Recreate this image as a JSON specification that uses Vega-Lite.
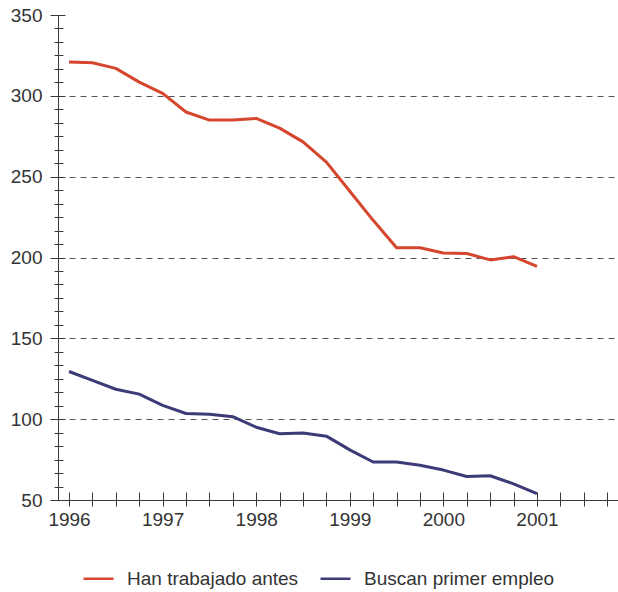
{
  "$schema": "https://vega.github.io/schema/vega-lite/v6.json",
  "width": 560,
  "height": 485,
  "autosize": {"type": "none"},
  "padding": {"left": 58, "top": 15, "right": 0, "bottom": 92},
  "background": "white",
  "config": {
    "view": {"stroke": null},
    "font": "Liberation Sans",
    "axis": {"domainColor": "#3a3a3a", "tickColor": "#3a3a3a", "labelColor": "#333333", "labelFontSize": 19, "labelFont": "Liberation Sans", "title": null}
  },
  "data": {
    "values": [
      {"t": 1996.00, "serie": "Han trabajado antes", "v": 321},
      {"t": 1996.25, "serie": "Han trabajado antes", "v": 320.5},
      {"t": 1996.50, "serie": "Han trabajado antes", "v": 317},
      {"t": 1996.75, "serie": "Han trabajado antes", "v": 308.5},
      {"t": 1997.00, "serie": "Han trabajado antes", "v": 301.5},
      {"t": 1997.25, "serie": "Han trabajado antes", "v": 290},
      {"t": 1997.50, "serie": "Han trabajado antes", "v": 285},
      {"t": 1997.75, "serie": "Han trabajado antes", "v": 285},
      {"t": 1998.00, "serie": "Han trabajado antes", "v": 286},
      {"t": 1998.25, "serie": "Han trabajado antes", "v": 280},
      {"t": 1998.50, "serie": "Han trabajado antes", "v": 271.5},
      {"t": 1998.75, "serie": "Han trabajado antes", "v": 259},
      {"t": 1999.00, "serie": "Han trabajado antes", "v": 241},
      {"t": 1999.25, "serie": "Han trabajado antes", "v": 223},
      {"t": 1999.50, "serie": "Han trabajado antes", "v": 206},
      {"t": 1999.75, "serie": "Han trabajado antes", "v": 206},
      {"t": 2000.00, "serie": "Han trabajado antes", "v": 202.8},
      {"t": 2000.25, "serie": "Han trabajado antes", "v": 202.5},
      {"t": 2000.50, "serie": "Han trabajado antes", "v": 198.5},
      {"t": 2000.75, "serie": "Han trabajado antes", "v": 200.5},
      {"t": 2001.00, "serie": "Han trabajado antes", "v": 194.5},
      {"t": 1996.00, "serie": "Buscan primer empleo", "v": 129.5},
      {"t": 1996.25, "serie": "Buscan primer empleo", "v": 124},
      {"t": 1996.50, "serie": "Buscan primer empleo", "v": 118.5},
      {"t": 1996.75, "serie": "Buscan primer empleo", "v": 115.5},
      {"t": 1997.00, "serie": "Buscan primer empleo", "v": 108.5},
      {"t": 1997.25, "serie": "Buscan primer empleo", "v": 103.5},
      {"t": 1997.50, "serie": "Buscan primer empleo", "v": 103},
      {"t": 1997.75, "serie": "Buscan primer empleo", "v": 101.5},
      {"t": 1998.00, "serie": "Buscan primer empleo", "v": 95},
      {"t": 1998.25, "serie": "Buscan primer empleo", "v": 91},
      {"t": 1998.50, "serie": "Buscan primer empleo", "v": 91.5},
      {"t": 1998.75, "serie": "Buscan primer empleo", "v": 89.5},
      {"t": 1999.00, "serie": "Buscan primer empleo", "v": 81},
      {"t": 1999.25, "serie": "Buscan primer empleo", "v": 73.5},
      {"t": 1999.50, "serie": "Buscan primer empleo", "v": 73.5},
      {"t": 1999.75, "serie": "Buscan primer empleo", "v": 71.5},
      {"t": 2000.00, "serie": "Buscan primer empleo", "v": 68.5},
      {"t": 2000.25, "serie": "Buscan primer empleo", "v": 64.5},
      {"t": 2000.50, "serie": "Buscan primer empleo", "v": 65},
      {"t": 2000.75, "serie": "Buscan primer empleo", "v": 60},
      {"t": 2001.00, "serie": "Buscan primer empleo", "v": 54}
    ]
  },
  "layer": [
    {
      "mark": {"type": "line", "opacity": 0},
      "encoding": {
        "detail": {"field": "serie"},
        "x": {"field": "t", "type": "quantitative", "scale": {"domain": [1995.882, 2001.866], "nice": false, "zero": false},
              "axis": {"orient": "bottom", "domain": false, "labels": false, "ticks": false, "grid": false}},
        "y": {"field": "v", "type": "quantitative", "scale": {"domain": [50, 350], "nice": false, "zero": false},
              "axis": {"orient": "left", "values": [100, 150, 200, 250, 300], "domain": false, "labels": false, "ticks": false, "grid": true, "gridDash": [6, 5], "gridColor": "#555555", "gridWidth": 1, "gridOpacity": 1}}
      }
    },
    {
      "mark": {"type": "line", "opacity": 0},
      "encoding": {
        "detail": {"field": "serie"},
        "x": {"field": "t", "type": "quantitative",
              "axis": {"orient": "bottom", "domain": true, "domainWidth": 1, "labels": false, "ticks": false, "grid": false}},
        "y": {"field": "v", "type": "quantitative",
              "axis": {"orient": "left", "domain": true, "domainWidth": 1, "labels": false, "ticks": false, "grid": false}}
      }
    },
    {
      "mark": {"type": "line", "opacity": 0},
      "encoding": {
        "detail": {"field": "serie"},
        "x": {"field": "t", "type": "quantitative",
              "axis": {"orient": "bottom", "offset": -8, "domain": false, "grid": false, "ticks": true, "tickSize": 14, "tickWidth": 1,
                       "values": [1996, 1996.25, 1996.5, 1996.75, 1997, 1997.25, 1997.5, 1997.75, 1998, 1998.25, 1998.5, 1998.75, 1999, 1999.25, 1999.5, 1999.75, 2000, 2000.25, 2000.5, 2000.75, 2001, 2001.25, 2001.5, 2001.75],
                       "labelExpr": "datum.value % 1 === 0 ? format(datum.value, 'd') : ''", "labelOverlap": false, "labelFlush": false, "labelPadding": 4}},
        "y": {"field": "v", "type": "quantitative",
              "axis": {"orient": "left", "offset": -7, "domain": false, "grid": false, "ticks": true, "tickSize": 15, "tickWidth": 1,
                       "values": [50, 100, 150, 200, 250, 300, 350], "format": "d", "labelPadding": 8, "labelOverlap": false, "labelFlush": false}}
      }
    },
    {
      "mark": {"type": "line", "opacity": 0},
      "encoding": {
        "detail": {"field": "serie"},
        "x": {"field": "t", "type": "quantitative", "axis": null},
        "y": {"field": "v", "type": "quantitative",
              "axis": {"orient": "left", "offset": -5, "domain": false, "grid": false, "labels": false, "ticks": true, "tickSize": 9, "tickWidth": 1,
                       "values": [58.333, 66.667, 75, 83.333, 91.667, 108.333, 116.667, 125, 133.333, 141.667, 158.333, 166.667, 175, 183.333, 191.667, 208.333, 216.667, 225, 233.333, 241.667, 258.333, 266.667, 275, 283.333, 291.667, 308.333, 316.667, 325, 333.333, 341.667]}}
      }
    },
    {
      "mark": {"type": "line", "strokeWidth": 3, "strokeJoin": "round"},
      "encoding": {
        "x": {"field": "t", "type": "quantitative", "axis": null},
        "y": {"field": "v", "type": "quantitative", "axis": null},
        "color": {"field": "serie", "type": "nominal",
                  "scale": {"domain": ["Han trabajado antes", "Buscan primer empleo"], "range": ["#d6452d", "#3d3a78"]},
                  "legend": {"orient": "none", "legendX": 24, "legendY": 547, "direction": "horizontal", "title": null,
                             "symbolType": "stroke", "symbolSize": 900, "symbolStrokeWidth": 2.5,
                             "labelFontSize": 19, "labelLimit": 0, "labelColor": "#333333", "labelFont": "Liberation Sans", "labelOffset": 12, "columnPadding": 16}}
      }
    }
  ],
  "resolve": {"axis": {"x": "independent", "y": "independent"}}
}
